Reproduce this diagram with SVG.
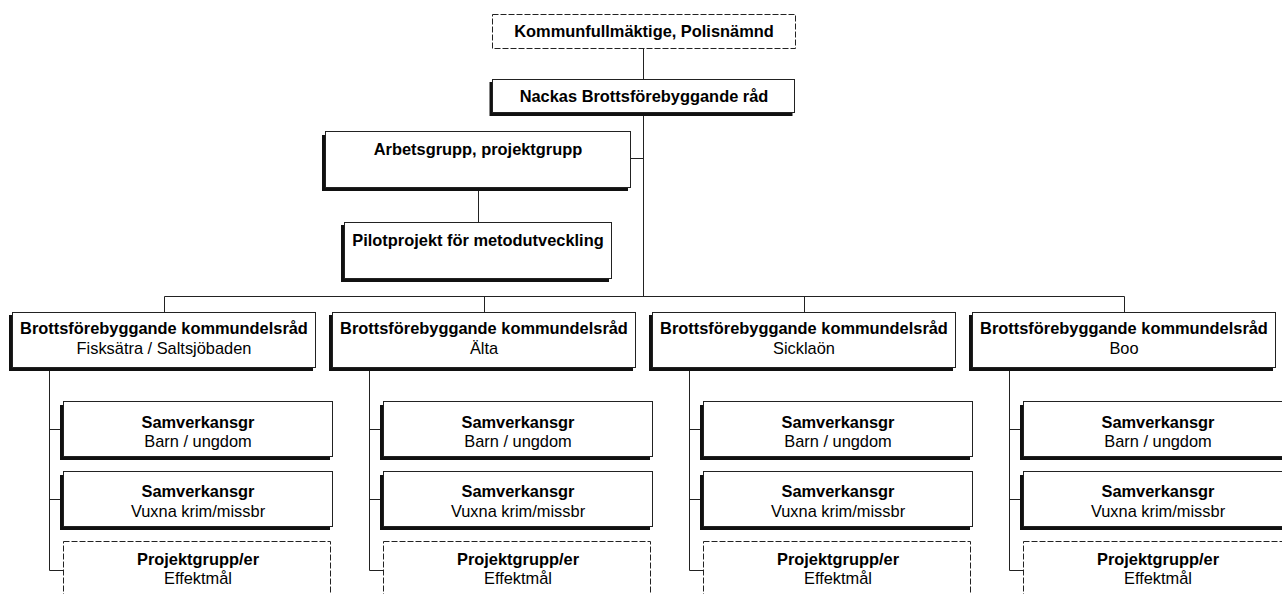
<svg xmlns="http://www.w3.org/2000/svg" width="1282" height="594" viewBox="0 0 1282 594">
<style>
.box{fill:#fff;stroke:#222;stroke-width:1}
.dash{fill:#fff;stroke:#222;stroke-width:1;stroke-dasharray:6 2}
.sh{fill:#111}
.ln{fill:none;stroke:#222;stroke-width:1}
text{font-family:"Liberation Sans",Arial,sans-serif;font-size:16.4px;fill:#000;text-anchor:middle}
.b{font-weight:bold}
</style>
<rect width="1282" height="594" fill="#fff"/>
<g id="connectors">
<path class="ln" d="M643.5 48V79M643.5 113V296.5M631 158.5H643.5M478.5 188V222M164.5 296.5H1124.5M164.5 296.5V312M484.5 296.5V312M804.5 296.5V312M1124.5 296.5V312"/>
<path class="ln" d="M49.5 368V570.5H63M49.5 429.5H63M49.5 499.5H63"/>
<path class="ln" d="M369.5 368V570.5H383M369.5 429.5H383M369.5 499.5H383"/>
<path class="ln" d="M689.5 368V570.5H703M689.5 429.5H703M689.5 499.5H703"/>
<path class="ln" d="M1009.5 368V570.5H1023M1009.5 429.5H1023M1009.5 499.5H1023"/>
</g>
<g id="kommunfullmaktige">
<rect class="dash" x="492.5" y="14.5" width="303" height="34"/>
<text class="b" x="644" y="37">Kommunfullmäktige, Polisnämnd</text>
</g>
<g id="nackas">
<rect class="sh" x="489.5" y="82" width="303" height="34"/>
<rect class="box" x="492.5" y="79.5" width="302" height="33"/>
<text class="b" x="644" y="102">Nackas Brottsförebyggande råd</text>
</g>
<g id="arbetsgrupp">
<rect class="sh" x="322" y="135" width="306" height="56"/>
<rect class="box" x="325.5" y="131.5" width="305" height="56"/>
<text class="b" x="478" y="155">Arbetsgrupp, projektgrupp</text>
</g>
<g id="pilot">
<rect class="sh" x="341" y="225" width="268" height="57"/>
<rect class="box" x="344.5" y="222.5" width="267" height="56"/>
<text class="b" x="478" y="246">Pilotprojekt för metodutveckling</text>
</g>
<g id="kdr-fisksatra">
<rect class="sh" x="9" y="315" width="304" height="56"/>
<rect class="box" x="12.5" y="312.5" width="303" height="55"/>
<text class="b" x="164" y="334">Brottsförebyggande kommundelsråd</text>
<text x="164" y="354">Fisksätra / Saltsjöbaden</text>
</g>
<g id="kdr-alta">
<rect class="sh" x="329" y="315" width="304" height="56"/>
<rect class="box" x="332.5" y="312.5" width="303" height="55"/>
<text class="b" x="484" y="334">Brottsförebyggande kommundelsråd</text>
<text x="484" y="354">Älta</text>
</g>
<g id="kdr-sicklaon">
<rect class="sh" x="649" y="315" width="304" height="56"/>
<rect class="box" x="652.5" y="312.5" width="303" height="55"/>
<text class="b" x="804" y="334">Brottsförebyggande kommundelsråd</text>
<text x="804" y="354">Sicklaön</text>
</g>
<g id="kdr-boo">
<rect class="sh" x="969" y="315" width="304" height="56"/>
<rect class="box" x="972.5" y="312.5" width="303" height="55"/>
<text class="b" x="1124" y="334">Brottsförebyggande kommundelsråd</text>
<text x="1124" y="354">Boo</text>
</g>
<g id="col1-barn"><rect class="sh" x="60" y="405" width="270" height="55"/><rect class="box" x="63.5" y="401.5" width="269" height="55"/><text class="b" x="198" y="428">Samverkansgr</text><text x="198" y="447">Barn / ungdom</text></g>
<g id="col1-vuxna"><rect class="sh" x="60" y="475" width="270" height="55"/><rect class="box" x="63.5" y="471.5" width="269" height="55"/><text class="b" x="198" y="497">Samverkansgr</text><text x="198" y="517">Vuxna krim/missbr</text></g>
<g id="col1-projekt"><rect class="dash" x="63.5" y="541.5" width="267" height="70"/><text class="b" x="198" y="565">Projektgrupp/er</text><text x="198" y="584">Effektmål</text></g>
<g id="col2-barn"><rect class="sh" x="380" y="405" width="270" height="55"/><rect class="box" x="383.5" y="401.5" width="269" height="55"/><text class="b" x="518" y="428">Samverkansgr</text><text x="518" y="447">Barn / ungdom</text></g>
<g id="col2-vuxna"><rect class="sh" x="380" y="475" width="270" height="55"/><rect class="box" x="383.5" y="471.5" width="269" height="55"/><text class="b" x="518" y="497">Samverkansgr</text><text x="518" y="517">Vuxna krim/missbr</text></g>
<g id="col2-projekt"><rect class="dash" x="383.5" y="541.5" width="267" height="70"/><text class="b" x="518" y="565">Projektgrupp/er</text><text x="518" y="584">Effektmål</text></g>
<g id="col3-barn"><rect class="sh" x="700" y="405" width="270" height="55"/><rect class="box" x="703.5" y="401.5" width="269" height="55"/><text class="b" x="838" y="428">Samverkansgr</text><text x="838" y="447">Barn / ungdom</text></g>
<g id="col3-vuxna"><rect class="sh" x="700" y="475" width="270" height="55"/><rect class="box" x="703.5" y="471.5" width="269" height="55"/><text class="b" x="838" y="497">Samverkansgr</text><text x="838" y="517">Vuxna krim/missbr</text></g>
<g id="col3-projekt"><rect class="dash" x="703.5" y="541.5" width="267" height="70"/><text class="b" x="838" y="565">Projektgrupp/er</text><text x="838" y="584">Effektmål</text></g>
<g id="col4-barn"><rect class="sh" x="1020" y="405" width="270" height="55"/><rect class="box" x="1023.5" y="401.5" width="269" height="55"/><text class="b" x="1158" y="428">Samverkansgr</text><text x="1158" y="447">Barn / ungdom</text></g>
<g id="col4-vuxna"><rect class="sh" x="1020" y="475" width="270" height="55"/><rect class="box" x="1023.5" y="471.5" width="269" height="55"/><text class="b" x="1158" y="497">Samverkansgr</text><text x="1158" y="517">Vuxna krim/missbr</text></g>
<g id="col4-projekt"><rect class="dash" x="1023.5" y="541.5" width="267" height="70"/><text class="b" x="1158" y="565">Projektgrupp/er</text><text x="1158" y="584">Effektmål</text></g>
</svg>
